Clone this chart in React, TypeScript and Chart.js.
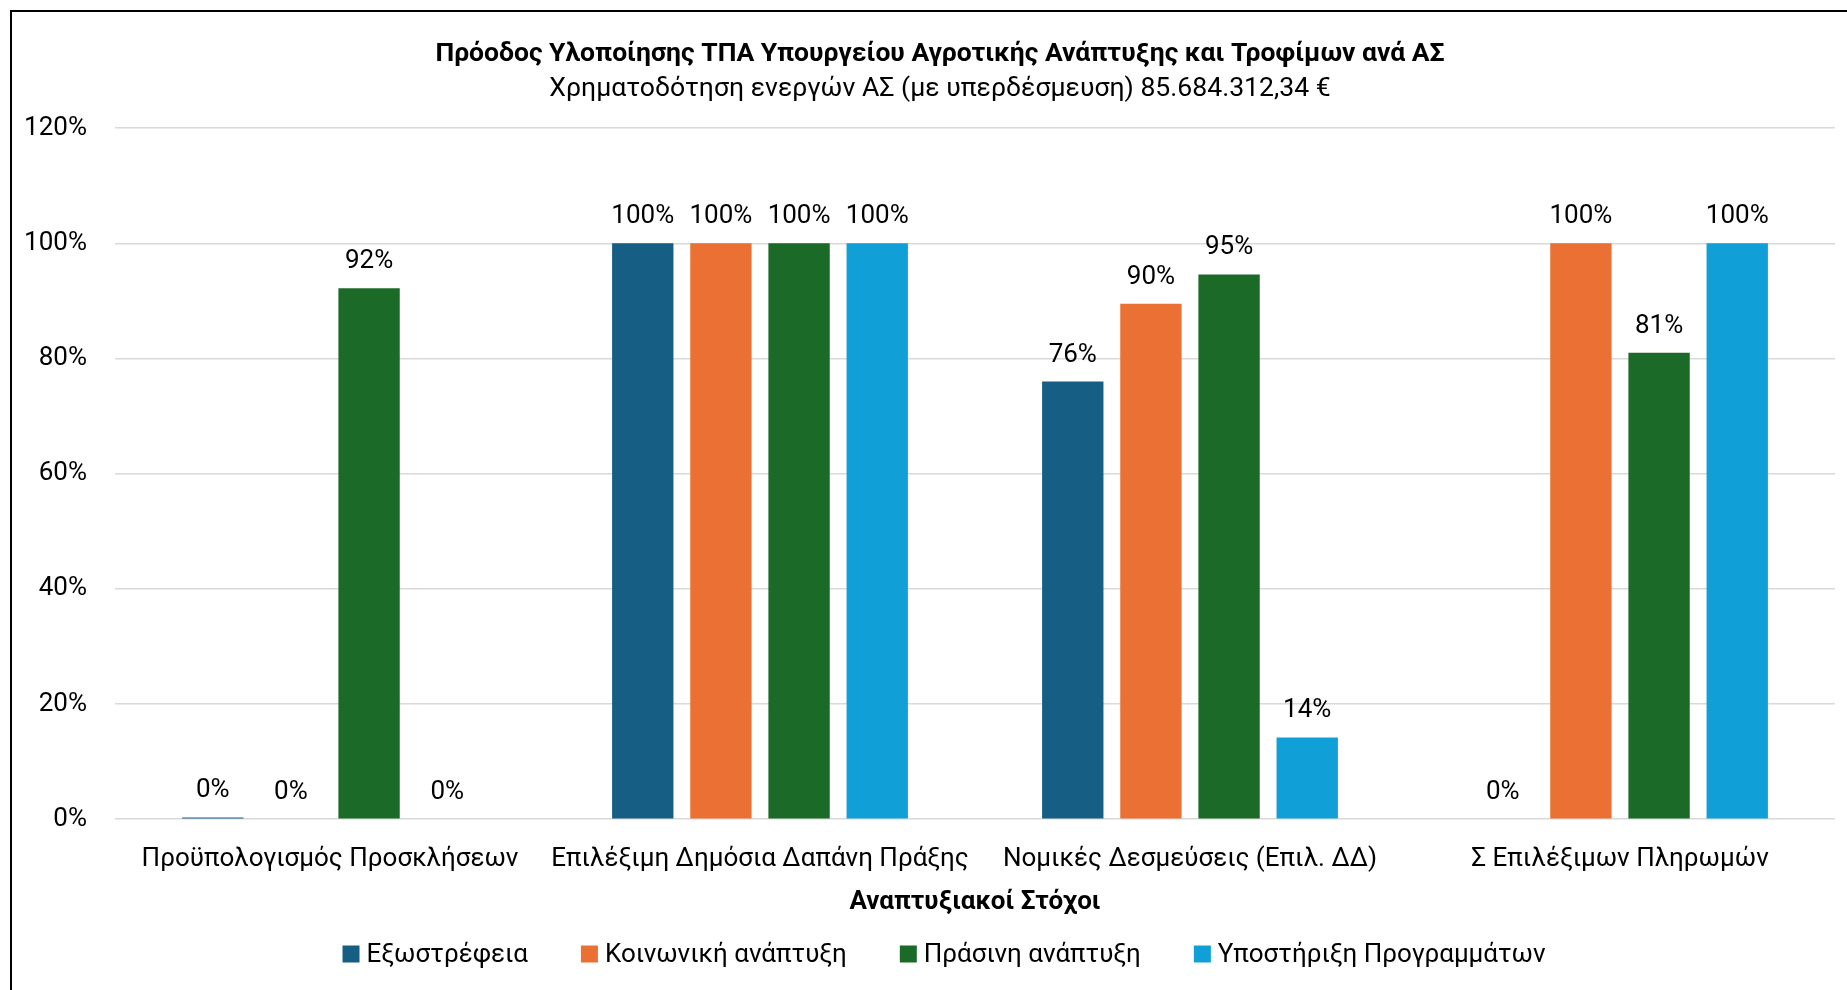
import React, { useEffect, useRef } from "react";
import { Chart, registerables } from "chart.js";

Chart.register(...registerables);

const FONT = "Roboto, 'Noto Sans', sans-serif";

const categories = [
  "Προϋπολογισμός Προσκλήσεων",
  "Επιλέξιμη Δημόσια Δαπάνη Πράξης",
  "Νομικές Δεσμεύσεις (Επιλ. ΔΔ)",
  "Σ Επιλέξιμων Πληρωμών",
];
const seriesNames = [
  "Εξωστρέφεια",
  "Κοινωνική ανάπτυξη",
  "Πράσινη ανάπτυξη",
  "Υποστήριξη Προγραμμάτων",
];
const exostrefeia = [0.003, 1.0, 0.76, 0];
const koinoniki = [0, 1.0, 0.895, 1.0];
const prasini = [0.922, 1.0, 0.946, 0.81];
const ypostirixi = [0, 1.0, 0.142, 1.0];
const seriesValues = [exostrefeia, koinoniki, prasini, ypostirixi];
const seriesColors = ["#165E83", "#EA7133", "#1C6A27", "#109FD7"];
const yMin = 0;
const yMax = 1.2;
const yStep = 0.2;
const titleText =
  "Πρόοδος Υλοποίησης ΤΠΑ Υπουργείου Αγροτικής Ανάπτυξης και Τροφίμων ανά ΑΣ";
const subtitleText =
  "Χρηματοδότηση ενεργών ΑΣ (με υπερδέσμευση) 85.684.312,34 €";
const xAxisTitle = "Αναπτυξιακοί Στόχοι";

const pct = (v: number) => Math.round(v * 100) + "%";

const dataLabelPlugin = {
  id: "dataLabels",
  afterDatasetsDraw(chart: any) {
    const ctx = chart.ctx;
    ctx.save();
    ctx.font = `26px ${FONT}`;
    ctx.fillStyle = "#000";
    ctx.textAlign = "center";
    ctx.textBaseline = "alphabetic";
    chart.data.datasets.forEach((ds: any, i: number) => {
      const meta = chart.getDatasetMeta(i);
      meta.data.forEach((el: any, j: number) => {
        const v = ds.data[j];
        if (v === null || v === undefined) return;
        ctx.fillText(pct(v), el.x, el.y - 20);
      });
    });
    ctx.restore();
  },
};

const legendPlugin = {
  id: "customLegend",
  afterDraw(chart: any) {
    const ctx = chart.ctx;
    ctx.save();
    ctx.font = `26px ${FONT}`;
    const box = 17;
    const gap = 7;
    const spacing = 53;
    const items = chart.data.datasets.map((d: any) => ({
      text: d.label,
      color: d.backgroundColor,
      w: ctx.measureText(d.label).width,
    }));
    const total =
      items.reduce((s: number, it: any) => s + box + gap + it.w, 0) +
      spacing * (items.length - 1);
    let x = 944 - total / 2;
    const y = 954;
    ctx.textBaseline = "middle";
    ctx.textAlign = "left";
    items.forEach((it: any) => {
      ctx.fillStyle = it.color;
      ctx.fillRect(x, y - box / 2, box, box);
      ctx.fillStyle = "#000";
      ctx.fillText(it.text, x + box + gap, y + 1);
      x += box + gap + it.w + spacing;
    });
    ctx.restore();
  },
};

export default function App() {
  const ref = useRef<HTMLCanvasElement | null>(null);

  useEffect(() => {
    if (!ref.current) return;
    const chart = new Chart(ref.current, {
      type: "bar",
      data: {
        labels: categories,
        datasets: seriesNames.map((name, i) => ({
          label: name,
          data: seriesValues[i],
          backgroundColor: seriesColors[i],
          borderWidth: 0,
          categoryPercentage: 0.727,
          barPercentage: 0.785,
        })),
      },
      options: {
        responsive: false,
        animation: false,
        events: [],
        layout: { padding: { left: 45, right: 12, top: 0, bottom: 71.9 } },
        font: { family: FONT },
        plugins: {
          legend: { display: false },
          tooltip: { enabled: false },
          title: {
            display: true,
            text: titleText,
            color: "#000",
            font: { family: FONT, size: 26.5, weight: "bold", lineHeight: 1.2 },
            padding: { top: 38.6, bottom: 2.8 },
          },
          subtitle: {
            display: true,
            text: subtitleText,
            color: "#000",
            font: { family: FONT, size: 26.6, weight: "normal", lineHeight: 1.2 },
            padding: { top: 0, bottom: 23 },
          },
        },
        scales: {
          x: {
            grid: { display: false, drawTicks: false },
            border: { display: false },
            ticks: {
              color: "#000",
              font: { family: FONT, size: 26, lineHeight: 1.2 },
              padding: 25,
              maxRotation: 0,
              autoSkip: false,
            },
            title: {
              display: true,
              text: xAxisTitle,
              color: "#000",
              font: { family: FONT, size: 26, weight: "bold", lineHeight: 1.2 },
              padding: { top: -13.5, bottom: 0 },
            },
          },
          y: {
            min: yMin,
            max: yMax,
            border: { display: false },
            grid: { color: "#D9D9D9", lineWidth: 1.6, drawTicks: false },
            ticks: {
              stepSize: yStep,
              color: "#000",
              font: { family: FONT, size: 26, lineHeight: 1.2 },
              padding: 28,
              callback: (v: any) => pct(Number(v)),
            },
            afterFit: (scale: any) => {
              scale.width = 70;
              scale._computeLabelArea = () => undefined;
            },
          },
        },
      },
      plugins: [dataLabelPlugin, legendPlugin],
    });
    return () => chart.destroy();
  }, []);

  return (
    <div
      style={{
        position: "fixed",
        left: 0,
        top: 0,
        width: 1847,
        height: 990,
        overflow: "hidden",
        background: "#fff",
      }}
    >
      <canvas
        ref={ref}
        width={1847}
        height={990}
        style={{ position: "absolute", left: 0, top: 0, width: 1847, height: 990 }}
      />
      <div
        style={{
          position: "absolute",
          left: 10,
          top: 10,
          width: 1900,
          height: 1100,
          borderLeft: "2px solid #000",
          borderTop: "2px solid #000",
          pointerEvents: "none",
        }}
      />
    </div>
  );
}
